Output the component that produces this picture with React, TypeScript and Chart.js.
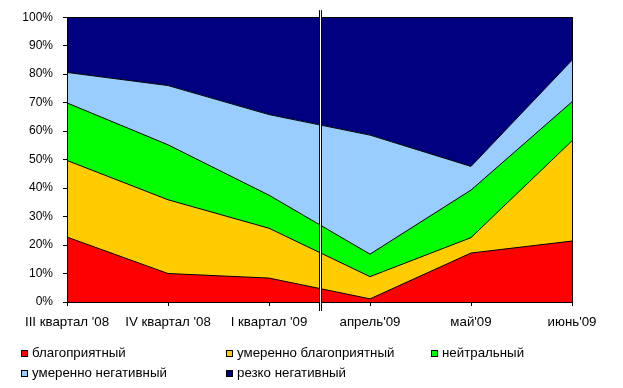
import React, { useEffect, useRef } from "react";
import { Chart, registerables } from "chart.js";

Chart.register(...registerables);

const categories = ["III квартал '08", "IV квартал '08", "I квартал '09", "апрель'09", "май'09", "июнь'09"];
const seriesNames = ["благоприятный", "умеренно благоприятный", "нейтральный", "умеренно негативный", "резко негативный"];
const seriesColors = ["#FF0000", "#FFCC00", "#00FF00", "#99CCFF", "#000080"];

const favorable = [22.8, 10.0, 8.4, 1.1, 17.2, 21.4];
const moderatelyFavorable = [26.9, 25.9, 17.5, 7.8, 5.4, 35.2];
const neutral = [20.2, 19.3, 11.6, 7.9, 16.7, 13.7];
const moderatelyNegative = [10.7, 20.8, 28.3, 41.8, 8.3, 14.6];
const sharplyNegative = [19.4, 24.0, 34.2, 41.4, 52.4, 15.1];

const seriesValues = [favorable, moderatelyFavorable, neutral, moderatelyNegative, sharplyNegative];
const dividerPosition = 2.5; // between "I квартал '09" and "апрель'09"

const FONT = "Arial, 'Liberation Sans', sans-serif";
const LABEL_SIZE = 13.3;

const framePlugin = {
  id: "frame",
  afterDraw(chart: any) {
    const { ctx, chartArea } = chart;
    ctx.save();
    ctx.strokeStyle = "#000";
    ctx.lineWidth = 1;
    ctx.strokeRect(
      Math.round(chartArea.left) + 0.5,
      Math.round(chartArea.top) + 0.5,
      Math.round(chartArea.right - chartArea.left),
      Math.round(chartArea.bottom - chartArea.top)
    );
    const x = Math.floor(chart.scales.x.getPixelForValue(dividerPosition));
    const top = chartArea.top - 7;
    const bottom = chartArea.bottom + 9;
    ctx.fillStyle = "#fff";
    ctx.fillRect(x, top, 3, bottom - top);
    ctx.beginPath();
    ctx.moveTo(x + 0.5, top);
    ctx.lineTo(x + 0.5, bottom);
    ctx.moveTo(x + 2.5, top);
    ctx.lineTo(x + 2.5, bottom);
    ctx.stroke();
    ctx.restore();
  },
};

export default function App() {
  const ref = useRef<HTMLCanvasElement>(null);

  useEffect(() => {
    const canvas = ref.current;
    if (!canvas) return;
    const chart = new Chart(canvas, {
      type: "line",
      data: {
        datasets: seriesValues.map((vals, i) => ({
          label: seriesNames[i],
          data: vals.map((v, j) => ({ x: j, y: v })),
          backgroundColor: seriesColors[i],
          borderColor: "#000",
          borderWidth: 1,
          pointRadius: 0,
          tension: 0,
          fill: i === 0 ? "origin" : "-1",
        })),
      },
      options: {
        responsive: false,
        animation: false,
        layout: { padding: { left: 0, right: 51, top: 15, bottom: 56 } },
        plugins: { legend: { display: false }, tooltip: { enabled: false } },
        scales: {
          x: {
            type: "linear",
            min: 0,
            max: categories.length - 1,
            afterBuildTicks: (s: any) => {
              s.ticks = categories.map((_, i) => ({ value: i }));
            },
            afterFit: (s: any) => {
              s.height = 30;
            },
            ticks: {
              autoSkip: false,
              maxRotation: 0,
              minRotation: 0,
              color: "#000",
              padding: 8,
              font: { family: FONT, size: LABEL_SIZE },
              callback: (v: any) => categories[v as number] ?? "",
            },
            grid: { drawOnChartArea: false, drawTicks: true, tickLength: 4, color: "#000" },
            border: { color: "#000" },
          },
          y: {
            stacked: true,
            min: 0,
            max: 100,
            afterFit: (s: any) => {
              s.width = 67;
            },
            ticks: {
              stepSize: 10,
              color: "#000",
              padding: 10,
              font: { family: FONT, size: 12 },
              callback: (v: any) => `${v}%`,
            },
            grid: { drawOnChartArea: false, drawTicks: true, tickLength: 4, color: "#000" },
            border: { color: "#000" },
          },
        },
      },
      plugins: [framePlugin],
    });
    return () => chart.destroy();
  }, []);

  const legendPos = [
    { left: 21, top: 350 },
    { left: 226, top: 350 },
    { left: 431, top: 350 },
    { left: 21, top: 370 },
    { left: 226, top: 370 },
  ];

  return (
    <div style={{ position: "fixed", left: 0, top: 0, width: 623, height: 388, background: "#fff", fontFamily: FONT }}>
      <canvas ref={ref} width={623} height={388} style={{ position: "absolute", left: 0, top: 0, width: 623, height: 388 }} />
      {seriesNames.map((name, i) => (
        <div key={name} style={{ position: "absolute", left: legendPos[i].left, top: legendPos[i].top, height: 8, whiteSpace: "nowrap" }}>
          <div
            style={{
              position: "absolute",
              left: 0,
              top: 0,
              width: 7,
              height: 7,
              boxSizing: "border-box",
              border: "1px solid #000",
              background: seriesColors[i],
            }}
          />
          <span style={{ position: "absolute", left: 11, top: -5, fontSize: LABEL_SIZE, lineHeight: "16px", color: "#000" }}>{name}</span>
        </div>
      ))}
    </div>
  );
}
